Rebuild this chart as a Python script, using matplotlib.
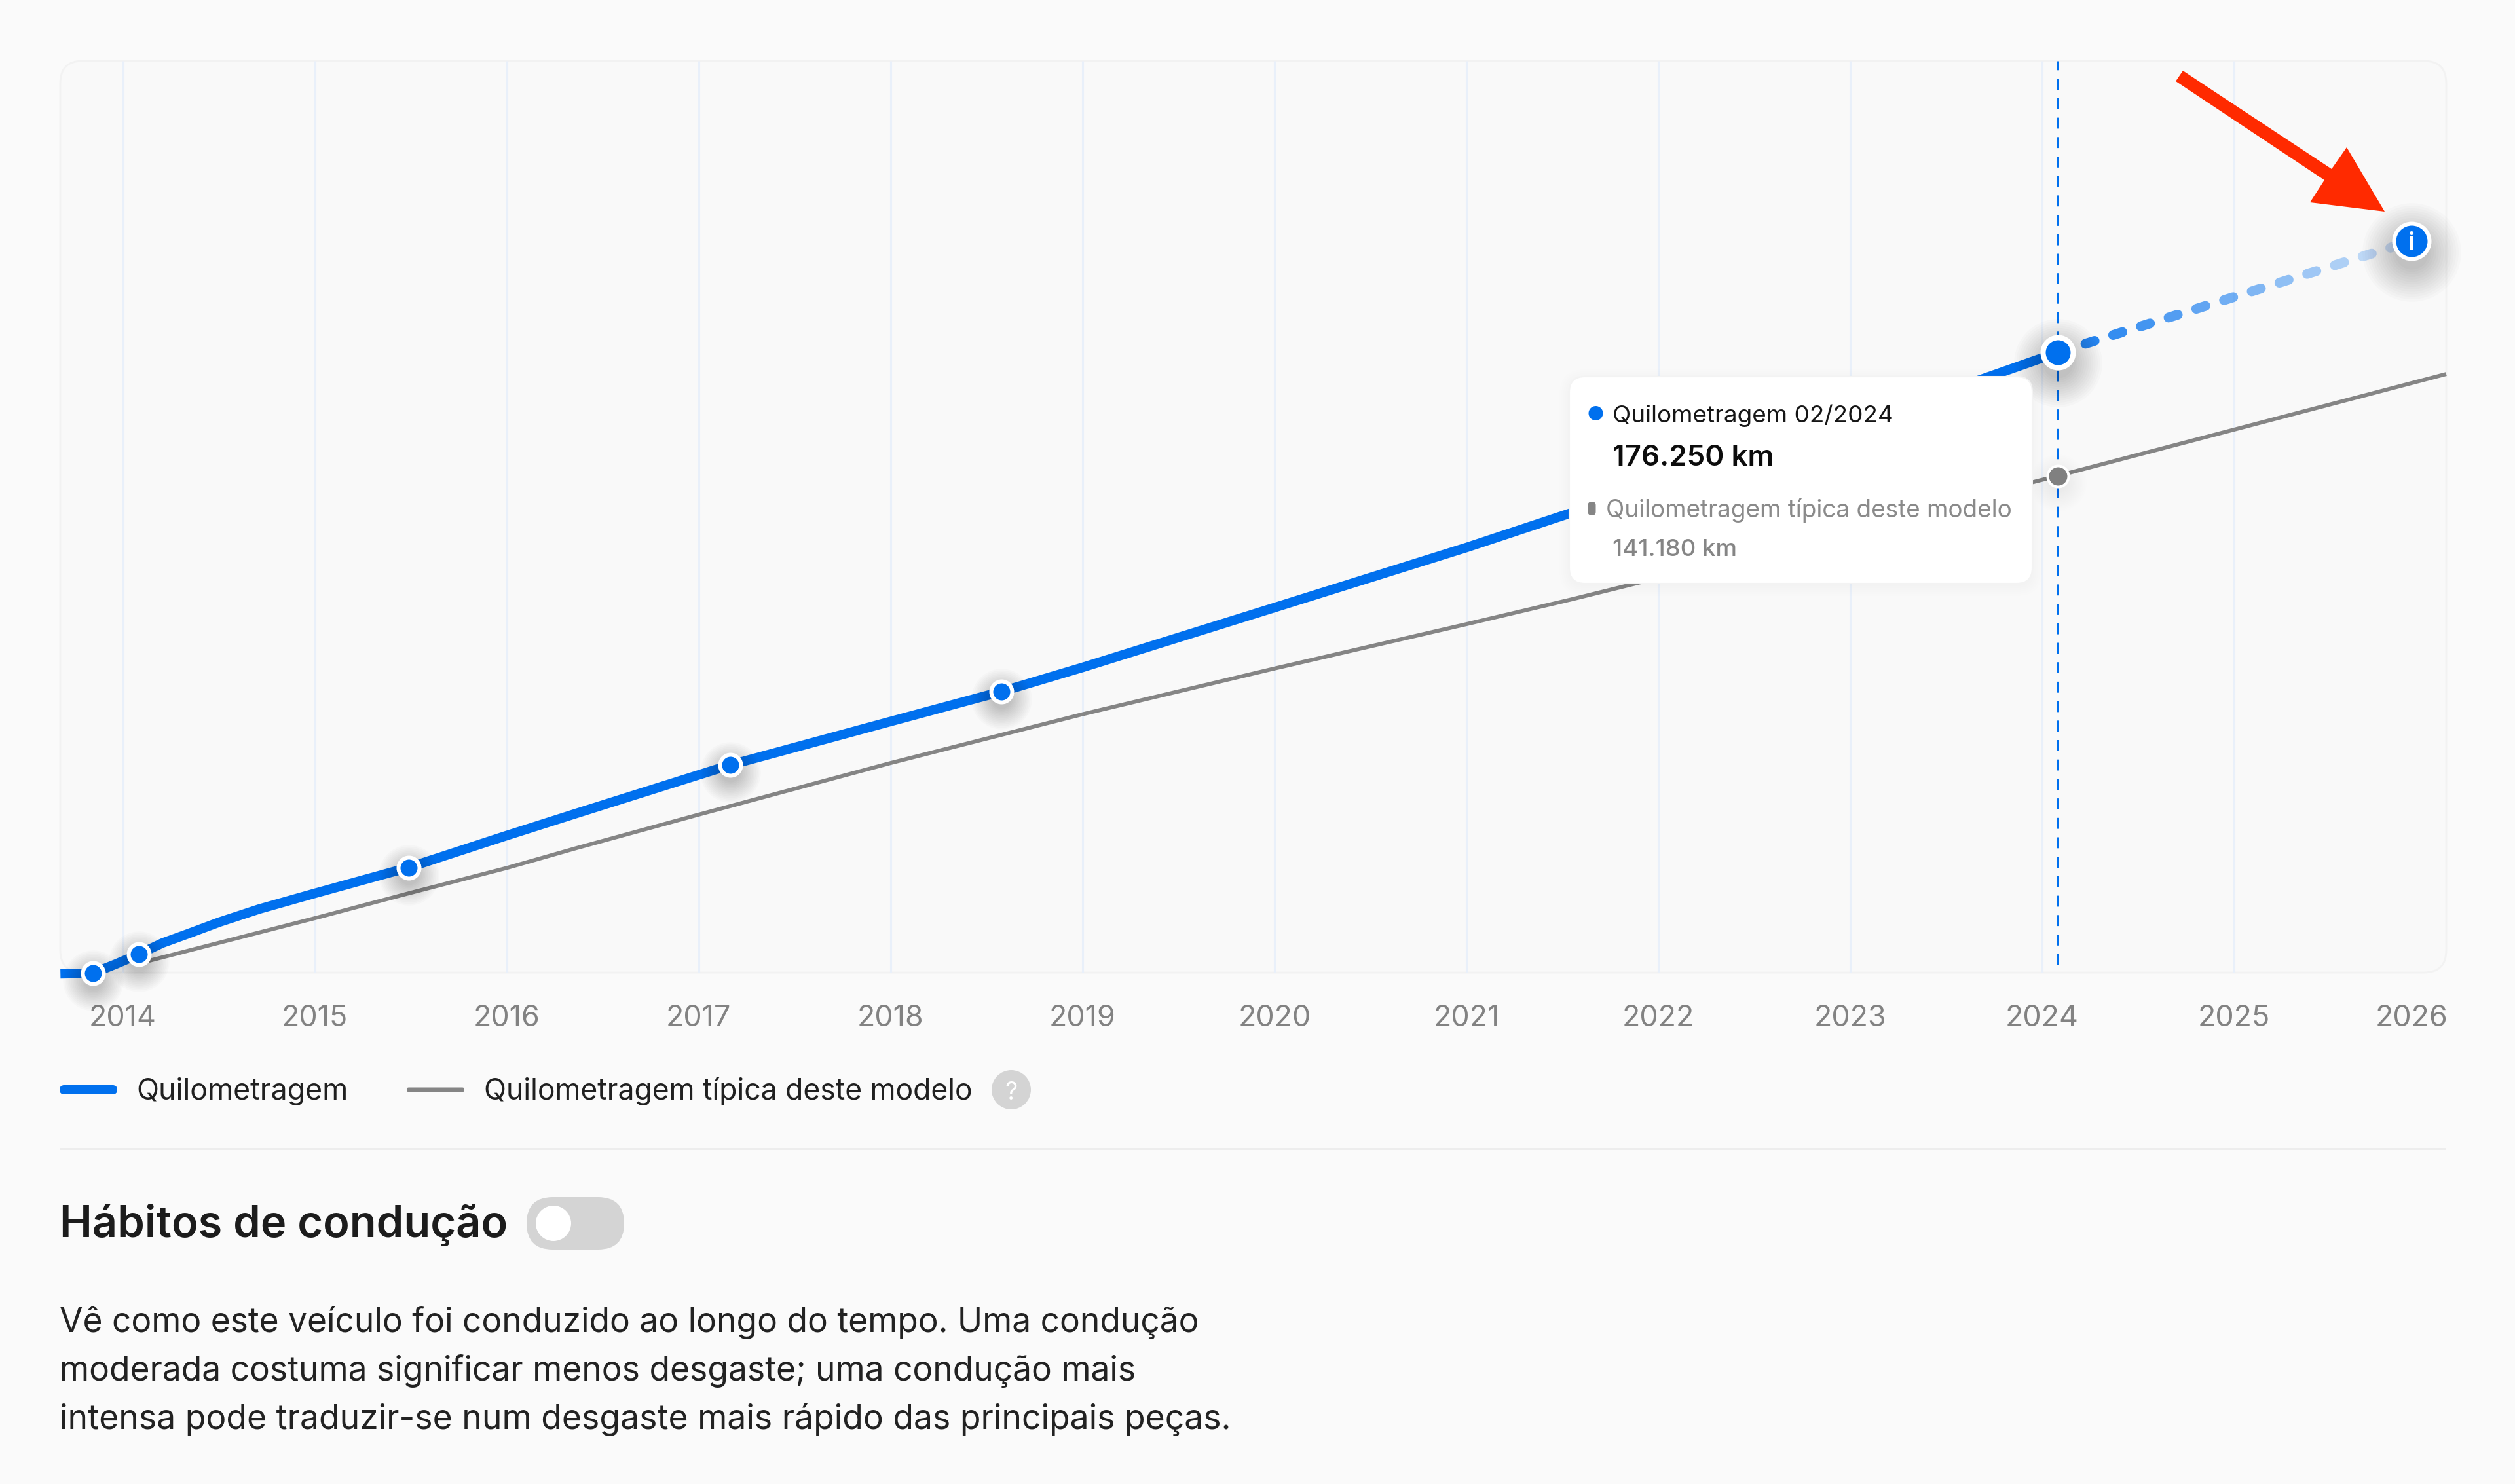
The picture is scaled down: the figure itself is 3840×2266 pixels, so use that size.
import numpy as np
import matplotlib
matplotlib.use("Agg")
import matplotlib.pyplot as plt
from matplotlib.patches import FancyBboxPatch, Polygon, Circle, Rectangle
from matplotlib.collections import LineCollection

plt.rcParams['font.family'] = ['Inter', 'DejaVu Sans']

# ---- data ----
blue_years = [2013.675, 2013.845, 2013.964, 2014.084, 2014.206, 2014.329, 2014.503, 2014.711, 2015.001, 2015.490,
              2015.998, 2016.363, 2017.165, 2018.001, 2018.577, 2019.001, 2019.997, 2021.000, 2021.526, 2022.574,
              2023.655, 2024.082]
blue_km = [-370, -190, 2420, 5210, 8375, 10800, 14330, 18050, 22520, 29870,
           38900, 45230, 59000, 71370, 79840, 86730, 103670, 120790, 130280, 148890,
           168060, 176250]
marker_years = [2013.845, 2014.084, 2015.490, 2017.165, 2018.577]
marker_km = [-190, 5210, 29870, 59000, 79840]
gray_years = [2014.084, 2015.001, 2015.490, 2015.998, 2016.363, 2016.998, 2018.001, 2019.001,
              2019.997, 2021.000, 2021.550, 2021.895, 2024.082, 2026.105]
gray_km = [2600, 15450, 22520, 29690, 35360, 44850, 59560, 73420,
           86360, 99010, 106090, 110740, 141180, 170110]
forecast_years = [2024.082, 2025.924]
forecast_km = [176250, 207900]
current_year = 2024.082
current_km = 176250
typical_km = 141180
grid_years = list(range(2014, 2026))
tick_positions = list(range(2014, 2026)) + [2025.924]
tick_labels = [str(y) for y in range(2014, 2027)]

legend_labels = ["Quilometragem", "Quilometragem típica deste modelo"]
title_text = "Hábitos de condução"
body_lines = ["Vê como este veículo foi conduzido ao longo do tempo. Uma condução",
              "moderada costuma significar menos desgaste; uma condução mais",
              "intensa pode traduzir-se num desgaste mais rápido das principais peças."]
tooltip_1 = "Quilometragem 02/2024"
tooltip_2 = "176.250 km"
tooltip_3 = "Quilometragem típica deste modelo"
tooltip_4 = "141.180 km"

BLUE = "#0070EE"
GRAY = "#858585"
RED = "#FF2A00"
BG = "#FAFAFA"
W, H = 3840, 2266
PX2PT = 0.72
KM_PER_PX = 186.1

fig = plt.figure(figsize=(W / 100, H / 100), dpi=100, facecolor=BG)


def px_axes(z):
    a = fig.add_axes([0, 0, 1, 1], zorder=z)
    a.set_xlim(0, W)
    a.set_ylim(H, 0)
    a.axis("off")
    a.patch.set_alpha(0)
    return a


under = px_axes(0)
over = px_axes(2)
L, R, T, B = 92, 3735, 93, 1485
under.add_patch(FancyBboxPatch((L, T), R - L, B - T, boxstyle="round,pad=0,rounding_size=34",
                               fc="#F9F9F9", ec="#F2F2F2", lw=2))

ax = fig.add_axes([L / W, 1 - B / H, (R - L) / W, (B - T) / H], zorder=1)
ax.patch.set_alpha(0)
ax.set_xlim(2013.674, 2026.105)
ax.set_ylim(0, 259100)
for s in ax.spines.values():
    s.set_visible(False)
ax.vlines(grid_years, 0, 259100, color="#E9F0FA", lw=2.2, zorder=1)
ax.set_yticks([])
ax.set_xticks(tick_positions)
ax.set_xticklabels(tick_labels)
ax.tick_params(axis="x", length=0, pad=35.5, labelsize=32.3, labelcolor="#828282")


def dot(x, y, r_out, r_in, color=BLUE, z=6, shadow=1.0):
    scale = r_out / 19
    for k in range(14):
        rr = r_out - 4 + k * 2.4 * scale
        ax.plot([x], [y - 11 * scale * KM_PER_PX], "o", ms=2 * rr * PX2PT, mfc="#000000", mew=0,
                alpha=0.014 * shadow, zorder=z - 1, clip_on=False)
    rm = (r_out + r_in) / 2
    ax.plot([x], [y], "o", ms=2 * rm * PX2PT, mfc=color, mec="white", mew=(r_out - r_in) * PX2PT,
            zorder=z, clip_on=False)


ax.plot(gray_years, gray_km, color=GRAY, lw=6 * PX2PT, solid_capstyle="butt", zorder=3, clip_on=False)
ax.plot(blue_years, blue_km, color=BLUE, lw=14.5 * PX2PT, solid_capstyle="butt", solid_joinstyle="round",
        zorder=4, clip_on=False)
ax.plot([current_year, current_year], [2200, 259100], color=BLUE, lw=3 * PX2PT, dashes=(5.6, 4.3), zorder=2)

# fading forecast dashes, cut from the two forecast values
n_dash = 12
segs, cols = [], []
fx0, fx1 = forecast_years
fy0, fy1 = forecast_km
for i in range(n_dash):
    a = 0.0777 + i * 0.0784
    b = a + 0.026
    segs.append([(fx0 + a * (fx1 - fx0), fy0 + a * (fy1 - fy0)), (fx0 + b * (fx1 - fx0), fy0 + b * (fy1 - fy0))])
    cols.append(matplotlib.colors.to_rgba(BLUE, 0.85 - 0.67 * i / (n_dash - 1)))
ax.add_collection(LineCollection(segs, colors=cols, linewidths=15 * PX2PT, capstyle="round", zorder=4))

for x, y in zip(marker_years, marker_km):
    dot(x, y, 19, 13)
dot(current_year, current_km, 27, 19, z=8)
dot(current_year, typical_km, 18, 14, color="#808080", z=7, shadow=0.35)
dot(forecast_years[1], forecast_km[1], 30, 24, z=8, shadow=1.0)
ax.text(forecast_years[1], forecast_km[1], "i", color="white", ha="center", va="center_baseline",
        fontsize=27, fontweight="bold", zorder=9)

# tooltip
for k in range(6):
    over.add_patch(FancyBboxPatch((2396 - k * 3, 575 - k * 3 + 4), 707 + k * 6, 316 + k * 6,
                                  boxstyle="round,pad=0,rounding_size=%d" % (24 + k * 3),
                                  fc="#000000", ec="none", alpha=0.003))
over.add_patch(FancyBboxPatch((2396, 575), 707, 316, boxstyle="round,pad=0,rounding_size=24",
                              fc="white", ec="#F3F3F3", lw=1.5))
over.add_patch(Circle((2436.5, 631), 11, fc=BLUE, ec="none"))
over.add_patch(FancyBboxPatch((2424.5, 766), 12, 21, boxstyle="round,pad=0,rounding_size=5.5", fc=GRAY, ec="none"))

rend = fig.canvas.get_renderer()


def fit(a, x, y, s, width, color, weight="normal", size=30):
    t = a.text(x, y, s, color=color, fontsize=size, fontweight=weight, ha="left", va="baseline", zorder=5)
    w = t.get_window_extent(rend).width
    t.set_fontsize(size * width / w)
    return t


fit(over, 2462, 645, tooltip_1, 428, "#161616")
fit(over, 2462, 711, tooltip_2, 246, "#0C0C0C", "semibold")
fit(over, 2452, 790, tooltip_3, 621, "#8A8A8A")
fit(over, 2462, 849, tooltip_4, 190, "#858585", "medium")

# arrow
over.add_patch(Polygon([(3333, 108), (3560, 258), (3583, 225), (3641, 323), (3527, 309), (3549, 275), (3322, 124)],
                       closed=True, fc=RED, ec="none"))

# legend
over.add_patch(FancyBboxPatch((91, 1657), 88, 14, boxstyle="round,pad=0,rounding_size=7", fc=BLUE, ec="none"))
over.add_patch(FancyBboxPatch((621, 1660.5), 88, 7, boxstyle="round,pad=0,rounding_size=3", fc=GRAY, ec="none"))
fit(over, 208, 1679, legend_labels[0], 323, "#202020")
fit(over, 739, 1679, legend_labels[1], 747, "#202020")
over.add_patch(Circle((1544, 1664), 30, fc="#D4D4D4", ec="none"))
over.text(1544, 1665, "?", color="white", fontsize=27, ha="center", va="center_baseline")

# separator
over.add_patch(Rectangle((91, 1752.5), 3644, 3, fc="#EDEDED", ec="none"))

# section title with toggle
fit(over, 91, 1889, title_text, 682, "#1C1C1C", "semibold")
over.add_patch(FancyBboxPatch((804, 1828), 149, 80, boxstyle="round,pad=0,rounding_size=40", fc="#D4D4D4", ec="none"))
over.add_patch(Circle((845, 1868), 27, fc="white", ec="none"))

# body
for y, s, w in zip([2034, 2108, 2182], body_lines, [1739, 1644, 1790]):
    fit(over, 91, y, s, w, "#222222")

fig.savefig("out.png", dpi=100, facecolor=BG)
